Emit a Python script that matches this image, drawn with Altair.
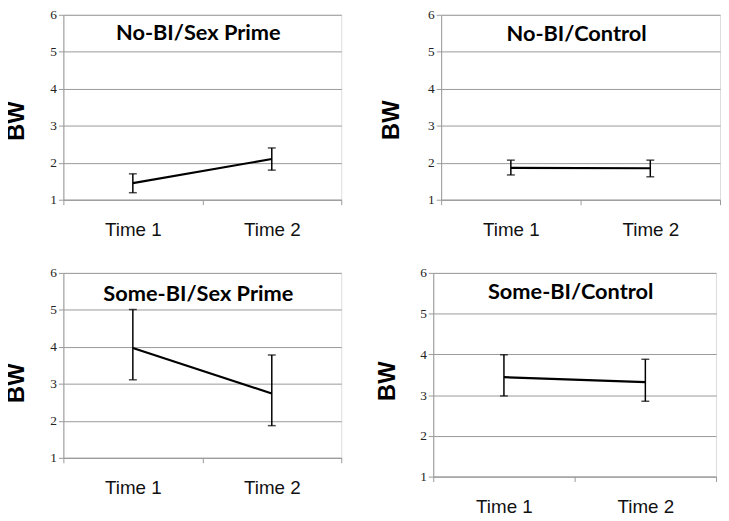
import altair as alt
import pandas as pd

panel_titles = ["No-BI/Sex Prime", "No-BI/Control", "Some-BI/Sex Prime", "Some-BI/Control"]
times = ["Time 1", "Time 2"]
means = [[1.45, 2.10], [1.86, 1.85], [3.97, 2.74], [3.44, 3.32]]
lower = [[1.19, 1.80], [1.67, 1.62], [3.11, 1.87], [2.98, 2.85]]
upper = [[1.70, 2.40], [2.07, 2.07], [5.01, 3.78], [3.99, 3.88]]
y_ticks = [1, 2, 3, 4, 5, 6]

GRID = "#9a9a9a"
BORDER = "#5a5a5a"


def panel(i, w, h, title_y, title_x, title_off):
    df = pd.DataFrame({"time": times, "mean": means[i], "lo": lower[i], "hi": upper[i]})
    x = alt.X("time:N", scale=alt.Scale(domain=times, paddingInner=0, paddingOuter=0),
              axis=alt.Axis(title=None, labelAngle=0, tickBand="extent", tickSize=5,
                            tickColor=GRID, domainColor=GRID, labelPadding=16,
                            labelFont="Liberation Sans", labelFontSize=19,
                            labelColor="#111", grid=False))
    y_axis = alt.Axis(title="BW", values=y_ticks, tickCount=10, format="d", grid=True,
                      gridColor=GRID, tickSize=5, tickColor=GRID, domainColor=GRID,
                      labelPadding=2, labelOverlap=False,
                      labelFont="Liberation Serif", labelFontSize=13.5, labelColor="#222",
                      titleFont="Liberation Sans", titleFontWeight="bold", titleFontSize=24,
                      titleAngle=270, titleBaseline="middle", titleAlign="center",
                      titleX=title_x, titleY=title_y, titleColor="#000")
    y = alt.Y("mean:Q", scale=alt.Scale(domain=[1, 6], nice=False, zero=False), axis=y_axis)
    base = alt.Chart(df)
    line = base.mark_line(color="#000", strokeWidth=2.2).encode(x=x, y=y)
    bars = base.mark_rule(color="#000", strokeWidth=1.5).encode(x=x, y="lo:Q", y2="hi:Q")
    cap_lo = base.mark_tick(color="#000", thickness=1.5, size=8, orient="horizontal").encode(x=x, y="lo:Q")
    cap_hi = base.mark_tick(color="#000", thickness=1.5, size=8, orient="horizontal").encode(x=x, y="hi:Q")
    return alt.layer(line, bars, cap_lo, cap_hi).properties(
        width=w, height=h,
        title=alt.TitleParams(panel_titles[i], font="Lato", fontSize=22, fontWeight="bold",
                              color="#000", anchor="middle", baseline="alphabetic",
                              offset=title_off, dx=-4))


p1 = panel(0, 281, 187, 107, -47, -54)
p2 = panel(1, 282, 187, 106, -50, -55)
p3 = panel(2, 281, 187, 111, -47, -57)
p4 = panel(3, 286, 206, 109, -46, -55)

top = alt.hconcat(p1, p2, spacing=37)
bottom = alt.hconcat(p3, p4, spacing=33)
chart = alt.vconcat(top, bottom, spacing=25).properties(
    padding={"left": -4, "top": -4, "right": 0, "bottom": 0}
).configure_view(stroke=BORDER, strokeWidth=1.2).configure(background="white")

chart.save("out.html", embed_options={"renderer": "svg", "actions": False})
